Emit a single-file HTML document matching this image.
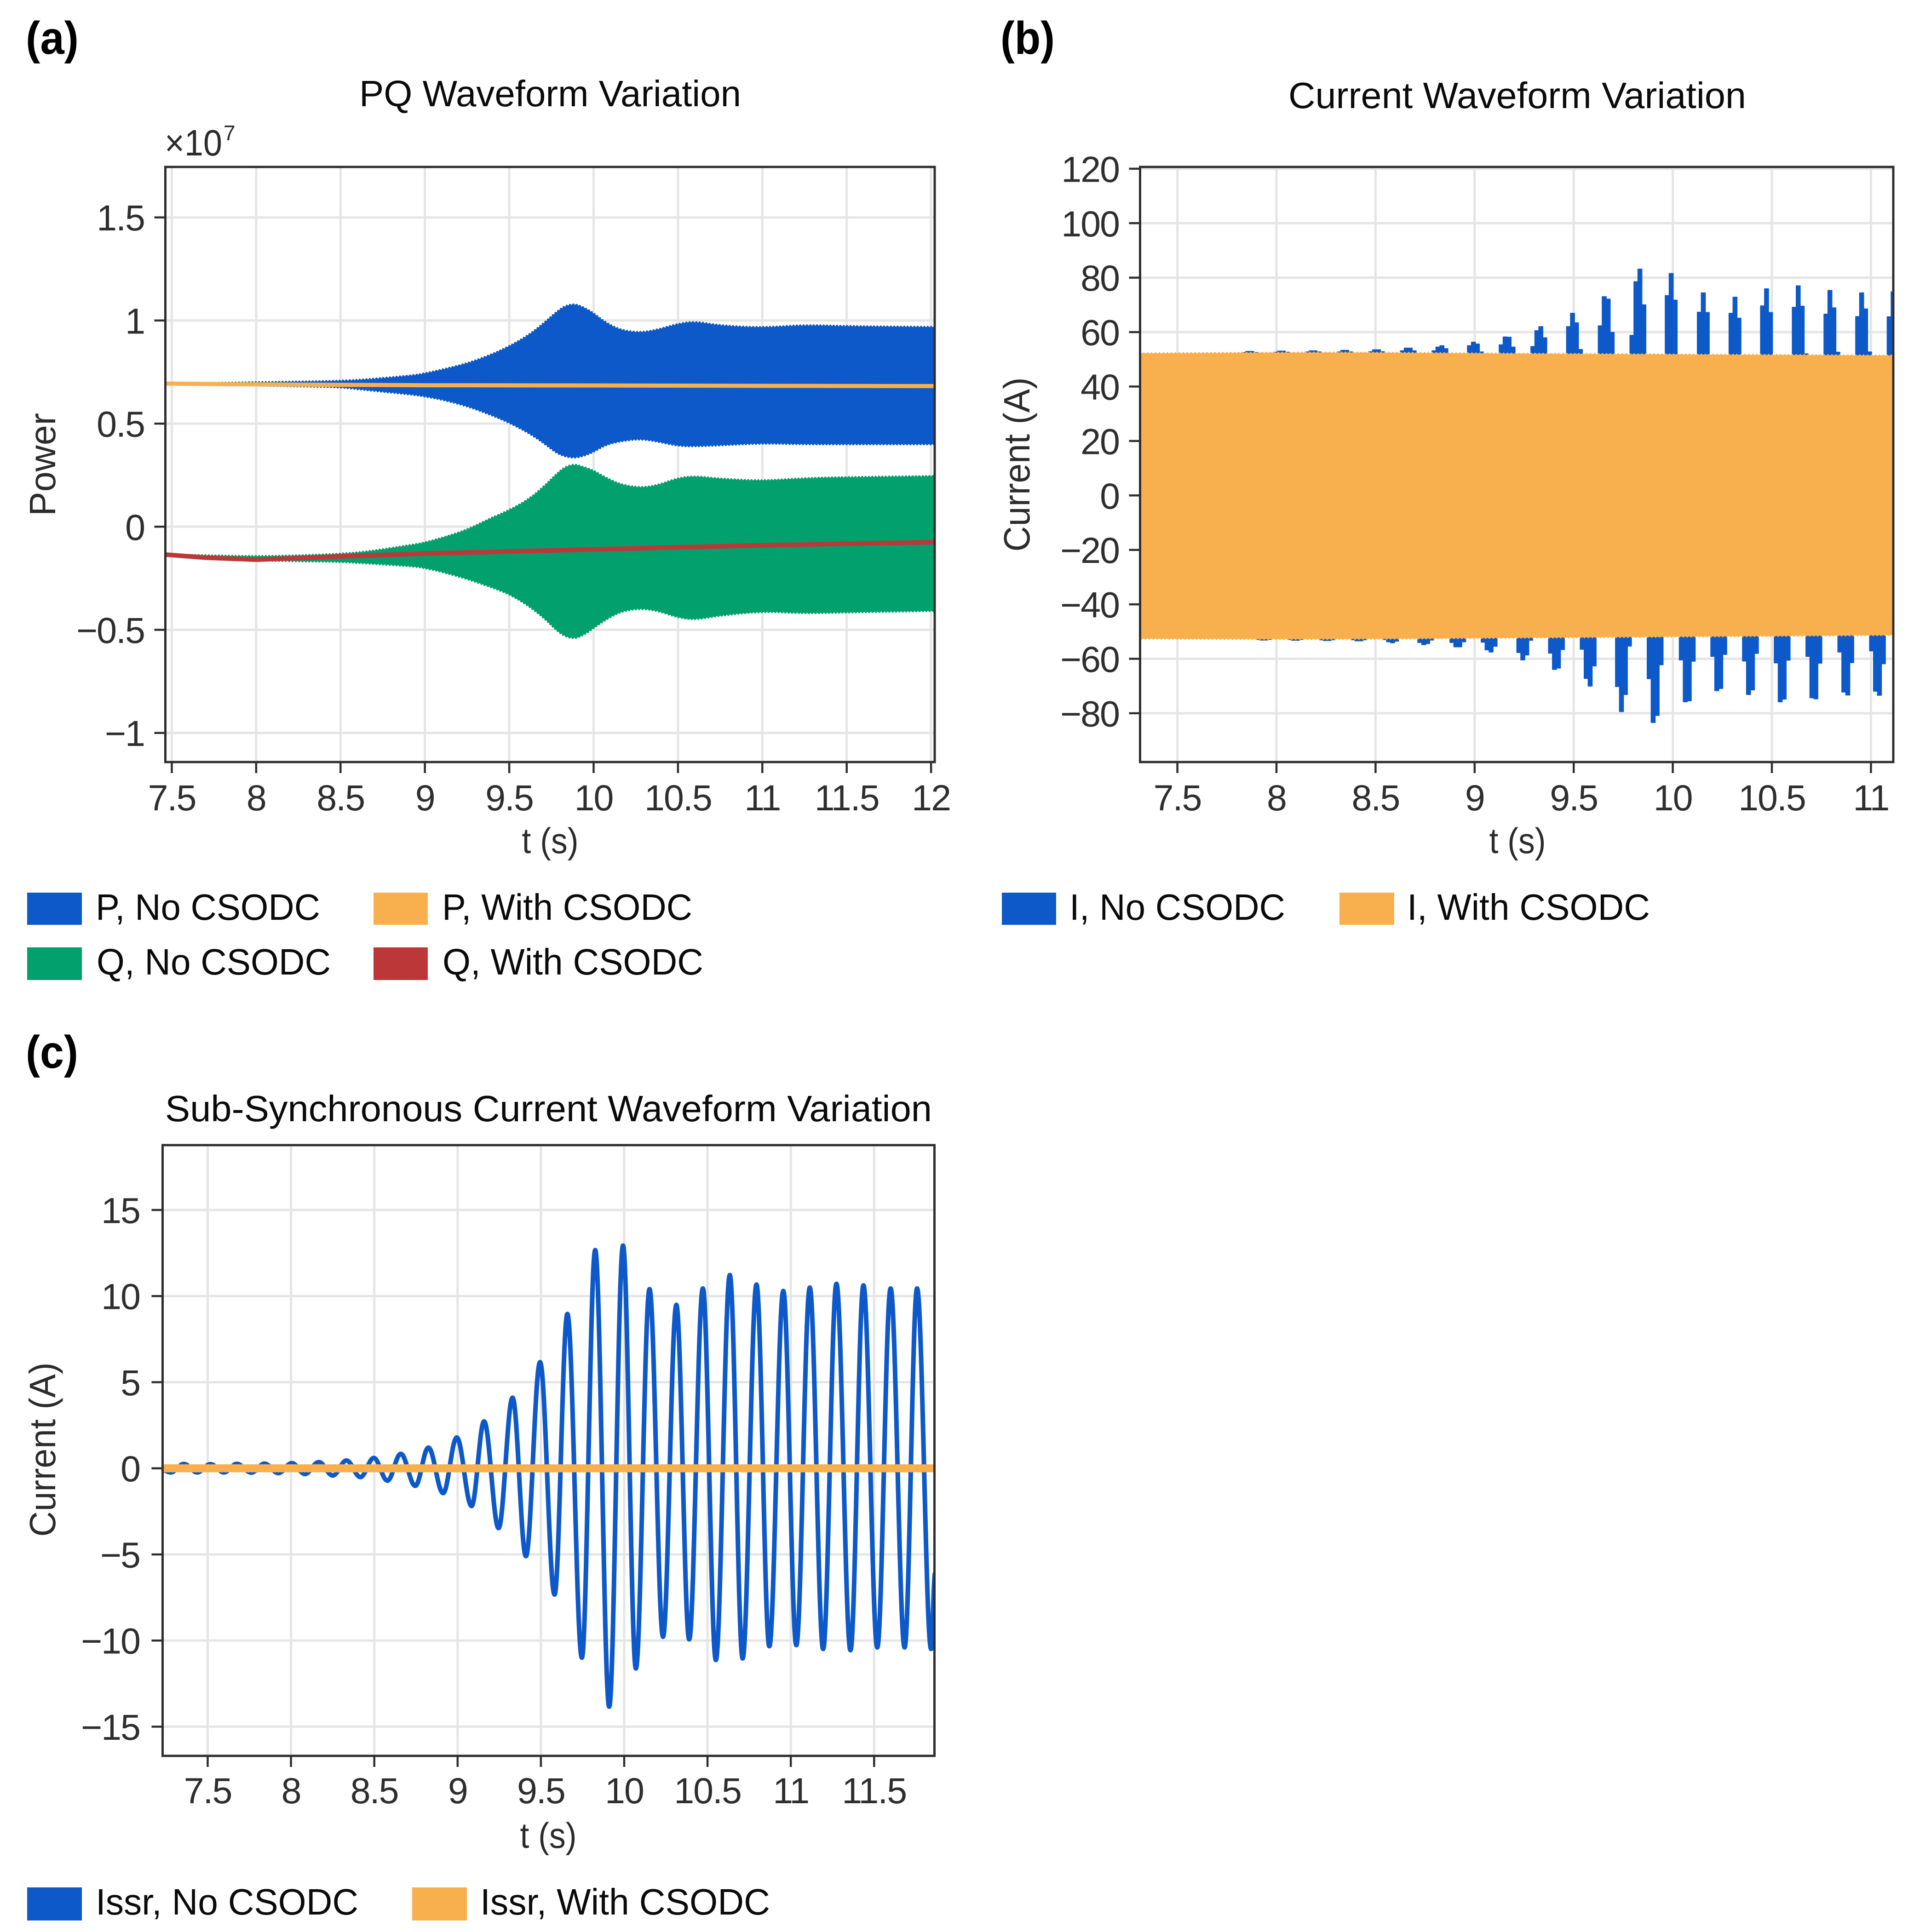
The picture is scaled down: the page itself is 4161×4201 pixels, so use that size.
<!DOCTYPE html>
<html lang="en">
<head>
<meta charset="utf-8">
<title>CSODC Waveform Variation</title>
<style>
html,body{margin:0;padding:0;background:#fff;}
svg{display:block;}
text{font-family:"Liberation Sans",Arial,sans-serif;}
</style>
</head>
<body>
<svg id="figure" xmlns="http://www.w3.org/2000/svg" width="4161" height="4201" viewBox="0 0 4161 4201">
<rect x="0" y="0" width="4161" height="4201" fill="#ffffff"/>
<defs>
<clipPath id="clip-a"><rect x="359.5" y="363" width="1672.5" height="1294"/></clipPath>
<clipPath id="clip-b"><rect x="2478.5" y="363" width="1637.5" height="1294"/></clipPath>
<clipPath id="clip-c"><rect x="353.5" y="2490" width="1678" height="1328"/></clipPath>
</defs>

<!-- panel a static text -->
<text x="56" y="117" font-size="100" font-weight="700" fill="#000" textLength="115" lengthAdjust="spacingAndGlyphs">(a)</text>
<text x="781" y="231" font-size="80" fill="#0a0a0a" textLength="830" lengthAdjust="spacingAndGlyphs">PQ Waveform Variation</text>
<text x="358" y="338" font-size="80" fill="#2b2b2b" textLength="125" lengthAdjust="spacingAndGlyphs">×10</text>
<text x="486" y="305" font-size="46" fill="#2b2b2b">7</text>
<text x="120" y="1010" font-size="80" fill="#2b2b2b" text-anchor="middle" transform="rotate(-90 120 1010)" textLength="224" lengthAdjust="spacingAndGlyphs">Power</text>
<text x="1196" y="1855" font-size="78" fill="#2b2b2b" text-anchor="middle" textLength="123" lengthAdjust="spacingAndGlyphs">t (s)</text>

<rect x="59" y="1941" width="119" height="70" fill="#0d59c9"/>
<text x="208" y="2000" font-size="80" fill="#0a0a0a" textLength="488" lengthAdjust="spacingAndGlyphs">P, No CSODC</text>
<rect x="812" y="1941" width="118" height="70" fill="#f8b04f"/>
<text x="961" y="2000" font-size="80" fill="#0a0a0a" textLength="544" lengthAdjust="spacingAndGlyphs">P, With CSODC</text>
<rect x="59" y="2060" width="119" height="71" fill="#02a06d"/>
<text x="210" y="2119" font-size="80" fill="#0a0a0a" textLength="509" lengthAdjust="spacingAndGlyphs">Q, No CSODC</text>
<rect x="812" y="2060" width="118" height="71" fill="#bc3838"/>
<text x="962" y="2119" font-size="80" fill="#0a0a0a" textLength="567" lengthAdjust="spacingAndGlyphs">Q, With CSODC</text>

<!-- panel b static text -->
<text x="2175" y="117" font-size="100" font-weight="700" fill="#000" textLength="118" lengthAdjust="spacingAndGlyphs">(b)</text>
<text x="2801" y="235" font-size="80" fill="#0a0a0a" textLength="995" lengthAdjust="spacingAndGlyphs">Current Waveform Variation</text>
<text x="2238" y="1010" font-size="80" fill="#2b2b2b" text-anchor="middle" transform="rotate(-90 2238 1010)" textLength="379" lengthAdjust="spacingAndGlyphs">Current (A)</text>
<text x="3299" y="1855" font-size="78" fill="#2b2b2b" text-anchor="middle" textLength="123" lengthAdjust="spacingAndGlyphs">t (s)</text>

<rect x="2178" y="1941" width="118" height="70" fill="#0d59c9"/>
<text x="2325" y="2000" font-size="80" fill="#0a0a0a" textLength="469" lengthAdjust="spacingAndGlyphs">I, No CSODC</text>
<rect x="2912" y="1941" width="119" height="70" fill="#f8b04f"/>
<text x="3059" y="2000" font-size="80" fill="#0a0a0a" textLength="528" lengthAdjust="spacingAndGlyphs">I, With CSODC</text>

<!-- panel c static text -->
<text x="56" y="2322" font-size="100" font-weight="700" fill="#000" textLength="114" lengthAdjust="spacingAndGlyphs">(c)</text>
<text x="359" y="2438" font-size="80" fill="#0a0a0a" textLength="1667" lengthAdjust="spacingAndGlyphs">Sub-Synchronous Current Waveform Variation</text>
<text x="120" y="3152" font-size="80" fill="#2b2b2b" text-anchor="middle" transform="rotate(-90 120 3152)" textLength="379" lengthAdjust="spacingAndGlyphs">Current (A)</text>
<text x="1192" y="4018" font-size="78" fill="#2b2b2b" text-anchor="middle" textLength="123" lengthAdjust="spacingAndGlyphs">t (s)</text>

<rect x="59" y="4104" width="119" height="72" fill="#0d59c9"/>
<text x="208" y="4163" font-size="80" fill="#0a0a0a" textLength="571" lengthAdjust="spacingAndGlyphs">Issr, No CSODC</text>
<rect x="896" y="4104" width="119" height="72" fill="#f8b04f"/>
<text x="1044" y="4163" font-size="80" fill="#0a0a0a" textLength="630" lengthAdjust="spacingAndGlyphs">Issr, With CSODC</text>
</svg>

<script>
// ---------- tick data ----------
const aXTicks = [7.5, 8, 8.5, 9, 9.5, 10, 10.5, 11, 11.5, 12];
const aXLabels = ['7.5', '8', '8.5', '9', '9.5', '10', '10.5', '11', '11.5', '12'];
const aYTicks = [1.5, 1, 0.5, 0, -0.5, -1];
const aYLabels = ['1.5', '1', '0.5', '0', '\u22120.5', '\u22121'];

const bXTicks = [7.5, 8, 8.5, 9, 9.5, 10, 10.5, 11];
const bXLabels = ['7.5', '8', '8.5', '9', '9.5', '10', '10.5', '11'];
const bYTicks = [120, 100, 80, 60, 40, 20, 0, -20, -40, -60, -80];
const bYLabels = ['120', '100', '80', '60', '40', '20', '0', '\u221220', '\u221240', '\u221260', '\u221280'];

const cXTicks = [7.5, 8, 8.5, 9, 9.5, 10, 10.5, 11, 11.5];
const cXLabels = ['7.5', '8', '8.5', '9', '9.5', '10', '10.5', '11', '11.5'];
const cYTicks = [15, 10, 5, 0, -5, -10, -15];
const cYLabels = ['15', '10', '5', '0', '\u22125', '\u221210', '\u221215'];

// ---------- panel a: envelopes (units of 1e7) ----------
const pqTime = [7.46,7.75,8,8.25,8.5,8.663,8.935,9,9.117,9.254,9.39,9.5,9.618,9.71,9.78,9.83,9.886,9.94,10,10.07,10.16,10.27,10.37,10.5,10.6,10.75,11,11.25,11.5,12.02];
const pUpper = [.694,.697,.70,.703,.707,.714,.734,.743,.764,.792,.833,.874,.93,.99,1.041,1.07,1.08,1.064,1.035,.99,.953,.941,.953,.984,.995,.975,.965,.978,.972,.968];
const pLower = [.692,.689,.685,.681,.677,.662,.64,.632,.614,.584,.543,.505,.454,.403,.358,.341,.334,.343,.363,.397,.415,.426,.415,.392,.39,.395,.405,.4,.4,.4];
const qUpper = [-.135,-.14,-.144,-.14,-.132,-.121,-.087,-.077,-.051,-.014,.041,.079,.134,.198,.255,.289,.303,.289,.272,.238,.204,.189,.198,.236,.245,.232,.222,.235,.24,.245];
const qLower = [-.135,-.15,-.163,-.167,-.17,-.178,-.192,-.2,-.222,-.254,-.292,-.326,-.385,-.445,-.502,-.531,-.543,-.525,-.491,-.451,-.411,-.396,-.405,-.44,-.451,-.43,-.41,-.42,-.415,-.408];
const pWithTime = [7.46,8,9,10,11,12.02];
const pWithVals = [.694,.69,.686,.685,.683,.682];
const qWithTime = [7.46,7.7,8,8.5,9,9.5,10,10.5,11,12.02];
const qWithVals = [-.135,-.15,-.16,-.144,-.13,-.12,-.11,-.10,-.09,-.075];

// ---------- panel b: current bursts (A) ----------
const bandTime = [7.31,8,8.5,9,10,11.12];
const bandUpper = [52.2,52.5,52.5,52.2,51.8,51.4];
const bandLower = [-52.6,-52.8,-52.7,-52.4,-51.9,-51.3];
const burstUpTimes = [7.825,7.985,8.145,8.305,8.465,8.625,8.785,8.964,9.124,9.284,9.464,9.624,9.784,9.962,10.124,10.284,10.443,10.603,10.763,10.923,11.082];
const burstUpPeaks = [
 [52.5,52.9,52.9,52.5],[52.6,53,53,52.6],[52.7,53.1,53.1,52.7],[52.7,53.3,53.3,52.7],[52.8,53.5,53.5,52.8],
 [53.1,54.1,54.1,53.1],[53.1,54.5,55,53.9],[55,56.3,55.6,52.7],[55.3,58.2,58.1,54.5],[54.7,60.5,62,57.9],
 [62,66.9,63.4,53.6],[62.3,73,72.1,59.9],[58.8,78.5,83.1,70],[73.4,81.5,71.7,50],[67.3,74.4,67.2,50],
 [66.9,72.8,65.1,50],[69.6,75.9,67.2,50],[69.1,77,69.5,52],[66.6,75.3,68.9,52.6],[65.7,74.4,68.5,52.7],[65.6,74.8,50,50]
];
const burstLowTimes = [7.896,8.056,8.216,8.376,8.536,8.713,8.875,9.033,9.213,9.373,9.533,9.711,9.871,10.033,10.192,10.352,10.512,10.672,10.833,10.993];
const burstLowPeaks = [
 [-52.9,-53.1,-53.1,-52.9],[-52.9,-53.2,-53.2,-52.9],[-53,-53.3,-53.3,-53],[-53,-53.4,-53.4,-53],
 [-52.9,-53.75,-54.1,-53.5],[-54,-54.8,-54.4,-53.1],[-54,-55.6,-55.6,-53.75],[-53.9,-56.7,-57.5,-55.4],
 [-57.7,-60.4,-58.6,-53.2],[-57.9,-63.9,-63.4,-56.6],[-56.5,-67.2,-70,-62.6],[-70.2,-79.4,-73.1,-55.3],
 [-67.3,-83.4,-80.8,-62.2],[-60.4,-75.8,-75.4,-60.9],[-59.1,-71.7,-70.9,-58.4],[-60.8,-73.1,-71.4,-58],
 [-61.5,-75.8,-74.8,-60.5],[-59.1,-74.3,-74.7,-61.6],[-57.5,-72.2,-73.3,-61.4],[-57.1,-71.9,-73.4,-61.8]
];
const cycleSeconds = 0.02;

// ---------- panel c: successive extrema of Issr (A) ----------
const issrTimes = [7.229,7.278,7.357,7.437,7.516,7.598,7.675,7.762,7.841,7.924,8.005,8.084,8.167,8.251,8.333,8.417,8.497,8.579,8.659,8.746,8.825,8.913,8.995,9.084,9.159,9.246,9.33,9.41,9.495,9.582,9.659,9.746,9.826,9.91,9.993,10.07,10.152,10.233,10.313,10.39,10.472,10.55,10.634,10.711,10.794,10.871,10.955,11.033,11.114,11.194,11.274,11.358,11.436,11.519,11.599,11.683,11.758,11.842,11.866];
const issrVals = [-.1,-.24,.25,-.24,.24,-.24,.26,-.25,.27,-.28,.3,-.33,.36,-.42,.45,-.51,.6,-.72,.84,-1.02,1.2,-1.44,1.79,-2.19,2.72,-3.47,4.1,-5.1,6.16,-7.33,8.96,-11,12.67,-13.84,12.93,-11.62,10.4,-9.78,9.49,-9.93,10.44,-11.13,11.22,-11.04,10.67,-10.33,10.29,-10.27,10.49,-10.49,10.71,-10.56,10.62,-10.4,10.44,-10.4,10.44,-10.49,-6.1];
const issrWithTime = [7.229,11.862];
const issrWithVals = [0,0];

// ---------- helpers ----------
const NS = 'http://www.w3.org/2000/svg';
const fig = document.getElementById('figure');
function mk(tag, attrs, parent) {
  const el = document.createElementNS(NS, tag);
  for (const k in attrs) el.setAttribute(k, attrs[k]);
  (parent || fig).appendChild(el);
  return el;
}
const GRID = '#e5e5e5', INK = '#2e2e2e';
const BLUE = '#0d59c9', ORANGE = '#f8b04f', GREEN = '#02a06d', RED = '#bc3838';

function drawGrid(p) {
  p.xTicks.forEach(function (t) {
    const line = mk('line', {x1: p.x(t), x2: p.x(t), y1: p.top, y2: p.bottom, stroke: GRID, 'stroke-width': 5});
    
    
  });
  p.yTicks.forEach(function (v) {
    const line = mk('line', {x1: p.left, x2: p.right, y1: p.y(v), y2: p.y(v), stroke: GRID, 'stroke-width': 5});
    
    
  });
}
function drawAxes(p) {
  const frame = mk('rect', {x: p.left, y: p.top, width: p.right - p.left, height: p.bottom - p.top, fill: 'none', stroke: INK, 'stroke-width': 5});
  
  
  p.xTicks.forEach(function (t, i) {
    const tick = mk('line', {x1: p.x(t), x2: p.x(t), y1: p.bottom, y2: p.bottom + 24, stroke: INK, 'stroke-width': 4.5});
    
    
    const label = mk('text', {x: p.x(t), y: p.xLabelY, 'font-size': 79, 'letter-spacing': -2, fill: INK, 'text-anchor': 'middle'});
    label.textContent = p.xLabels[i];
    
    
  });
  p.yTicks.forEach(function (v, i) {
    const tick = mk('line', {x1: p.left - 24, x2: p.left, y1: p.y(v), y2: p.y(v), stroke: INK, 'stroke-width': 4.5});
    
    
    const label = mk('text', {x: p.yLabelX, y: p.y(v) + 28.5, 'font-size': 79, 'letter-spacing': -2, fill: INK, 'text-anchor': 'end'});
    label.textContent = p.yLabels[i];
    
    
  });
}
function curveThrough(pts, first) {
  let d = (first ? 'M' : 'L') + pts[0][0].toFixed(1) + ' ' + pts[0][1].toFixed(1);
  for (let i = 1; i < pts.length - 1; i++) {
    const mx = (pts[i][0] + pts[i + 1][0]) / 2, my = (pts[i][1] + pts[i + 1][1]) / 2;
    d += 'Q' + pts[i][0].toFixed(1) + ' ' + pts[i][1].toFixed(1) + ' ' + mx.toFixed(1) + ' ' + my.toFixed(1);
  }
  const last = pts[pts.length - 1];
  return d + 'L' + last[0].toFixed(1) + ' ' + last[1].toFixed(1);
}
function envelopePath(p, ts, up, lo) {
  const top = ts.map(function (t, i) { return [p.x(t), p.y(up[i])]; });
  const bot = ts.map(function (t, i) { return [p.x(t), p.y(lo[i])]; }).reverse();
  return curveThrough(top, true) + curveThrough(bot, false) + 'Z';
}
function linePath(p, ts, vs) {
  let d = '';
  ts.forEach(function (t, i) { d += (i ? 'L' : 'M') + p.x(t).toFixed(1) + ' ' + p.y(vs[i]).toFixed(1); });
  return d;
}

// ---------- panel a ----------
const panelA = {
  left: 359.5, right: 2032, top: 363, bottom: 1657, xLabelY: 1762, yLabelX: 314,
  xTicks: aXTicks, xLabels: aXLabels, yTicks: aYTicks, yLabels: aYLabels,
  x: function (t) { return 923.7 + (t - 9) * 366.8; },
  y: function (v) { return 1145.3 - v * 448.4; }
};
drawGrid(panelA);
const gA = mk('g', {'clip-path': 'url(#clip-a)'});


const pNo = mk('path', {d: envelopePath(panelA, pqTime, pUpper, pLower), fill: BLUE, stroke: BLUE, 'stroke-width': 5, 'stroke-dasharray': '0 7.3', 'stroke-linecap': 'round'}, gA);


const qNo = mk('path', {d: envelopePath(panelA, pqTime, qUpper, qLower), fill: GREEN, stroke: GREEN, 'stroke-width': 5, 'stroke-dasharray': '0 7.3', 'stroke-linecap': 'round'}, gA);


const pWith = mk('path', {d: linePath(panelA, pWithTime, pWithVals), fill: 'none', stroke: ORANGE, 'stroke-width': 9}, gA);


const qWith = mk('path', {d: linePath(panelA, qWithTime, qWithVals), fill: 'none', stroke: RED, 'stroke-width': 10}, gA);


drawAxes(panelA);

// ---------- panel b ----------
const panelB = {
  left: 2478.5, right: 4116, top: 363, bottom: 1657, xLabelY: 1762, yLabelX: 2433,
  xTicks: bXTicks, xLabels: bXLabels, yTicks: bYTicks, yLabels: bYLabels,
  x: function (t) { return 3205.8 + (t - 9) * 430.8; },
  y: function (v) { return 1077.3 - v * 5.92; }
};
drawGrid(panelB);
const gB = mk('g', {'clip-path': 'url(#clip-b)'});


function burstPath(p, t0, peaks) {
  let d = '';
  peaks.forEach(function (v, i) {
    const x0 = p.x(t0 + i * cycleSeconds), x1 = p.x(t0 + (i + 1) * cycleSeconds);
    d += 'M' + x0.toFixed(1) + ' ' + p.y(0).toFixed(1) + 'L' + x0.toFixed(1) + ' ' + p.y(v).toFixed(1) + 'L' + x1.toFixed(1) + ' ' + p.y(v).toFixed(1) + 'L' + x1.toFixed(1) + ' ' + p.y(0).toFixed(1) + 'Z';
  });
  return d;
}
burstUpTimes.forEach(function (t, i) {
  const bar = mk('path', {d: burstPath(panelB, t, burstUpPeaks[i]), fill: BLUE, stroke: BLUE, 'stroke-width': 2, 'stroke-linejoin': 'round'}, gB);
  
  
});
burstLowTimes.forEach(function (t, i) {
  const bar = mk('path', {d: burstPath(panelB, t, burstLowPeaks[i]), fill: BLUE, stroke: BLUE, 'stroke-width': 2, 'stroke-linejoin': 'round'}, gB);
  
  
});
const band = mk('path', {d: envelopePath(panelB, bandTime, bandUpper, bandLower), fill: ORANGE, stroke: ORANGE, 'stroke-width': 4, 'stroke-dasharray': '0 8.6', 'stroke-linecap': 'round'}, gB);


drawAxes(panelB);

// ---------- panel c ----------
const panelC = {
  left: 353.5, right: 2031.5, top: 2490, bottom: 3818, xLabelY: 3921, yLabelX: 304,
  xTicks: cXTicks, xLabels: cXLabels, yTicks: cYTicks, yLabels: cYLabels,
  x: function (t) { return 1357 + (t - 10) * 362.2; },
  y: function (v) { return 3192.7 - v * 37.45; }
};
drawGrid(panelC);
const gC = mk('g', {'clip-path': 'url(#clip-c)'});


function smoothPath(p, ts, vs) {
  let d = 'M' + p.x(ts[0]).toFixed(1) + ' ' + p.y(vs[0]).toFixed(1);
  for (let i = 1; i < ts.length; i++) {
    const x0 = p.x(ts[i - 1]), x1 = p.x(ts[i]), y0 = p.y(vs[i - 1]), y1 = p.y(vs[i]);
    const k = (x1 - x0) * 0.364;
    d += 'C' + (x0 + k).toFixed(1) + ' ' + y0.toFixed(1) + ' ' + (x1 - k).toFixed(1) + ' ' + y1.toFixed(1) + ' ' + x1.toFixed(1) + ' ' + y1.toFixed(1);
  }
  return d;
}
const issrNo = mk('path', {d: smoothPath(panelC, issrTimes, issrVals), fill: 'none', stroke: BLUE, 'stroke-width': 10, 'stroke-linejoin': 'round'}, gC);


const issrWith = mk('path', {d: linePath(panelC, issrWithTime, issrWithVals), fill: 'none', stroke: ORANGE, 'stroke-width': 18, 'stroke-dasharray': '0 7.2', 'stroke-linecap': 'round'}, gC);


drawAxes(panelC);
</script>
</body>
</html>
